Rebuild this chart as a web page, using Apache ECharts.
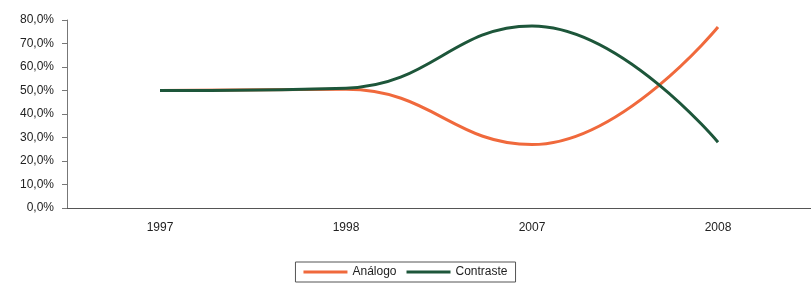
<!DOCTYPE html>
<html>
<head>
<meta charset="utf-8">
<script src="https://cdn.jsdelivr.net/npm/echarts@6/dist/echarts.min.js"></script>
<style>
html,body{margin:0;padding:0;background:#fff;}
#c{width:811px;height:286px;}
</style>
</head>
<body>
<div id="c"></div>
<script>
const categories = ['1997', '1998', '2007', '2008'];
const analogo = [50.0, 50.5, 27.0, 77.0];
const contraste = [50.0, 51.0, 77.5, 28.0];
const yTicks = [0, 10, 20, 30, 40, 50, 60, 70, 80];

const chart = echarts.init(document.getElementById('c'));
chart.setOption({
  animation: false,
  backgroundColor: '#ffffff',
  textStyle: { fontFamily: 'Liberation Sans, Arial, sans-serif' },
  grid: { left: 67, top: 20, width: 754, height: 188 },
  legend: {
    bottom: 4,
    left: 'center',
    itemWidth: 44,
    itemHeight: 3,
    itemGap: 10,
    padding: [4, 8],
    borderColor: '#555',
    borderWidth: 1,
    icon: 'rect',
    textStyle: { fontSize: 12, color: '#222' },
    data: ['Análogo', 'Contraste']
  },
  xAxis: {
    type: 'category',
    data: categories,
    boundaryGap: true,
    axisLine: { lineStyle: { color: '#555', width: 1 } },
    axisTick: { show: false },
    axisLabel: { color: '#222', fontSize: 12, margin: 14 }
  },
  yAxis: {
    type: 'value',
    min: 0,
    max: 80,
    interval: 10,
    splitLine: { show: false },
    axisLine: { show: true, lineStyle: { color: '#777', width: 1 } },
    axisTick: { show: true, length: 5, lineStyle: { color: '#777' } },
    axisLabel: {
      color: '#222', fontSize: 12, margin: 13,
      formatter: v => v.toFixed(1).replace('.', ',') + '%'
    }
  },
  series: [
    {
      name: 'Análogo',
      type: 'line',
      data: analogo,
      smooth: 0.45,
      symbol: 'none',
      lineStyle: { color: '#f0693c', width: 3 },
      itemStyle: { color: '#f0693c' }
    },
    {
      name: 'Contraste',
      type: 'line',
      data: contraste,
      smooth: 0.45,
      symbol: 'none',
      lineStyle: { color: '#1d563a', width: 3 },
      itemStyle: { color: '#1d563a' }
    }
  ]
});
</script>
</body>
</html>
